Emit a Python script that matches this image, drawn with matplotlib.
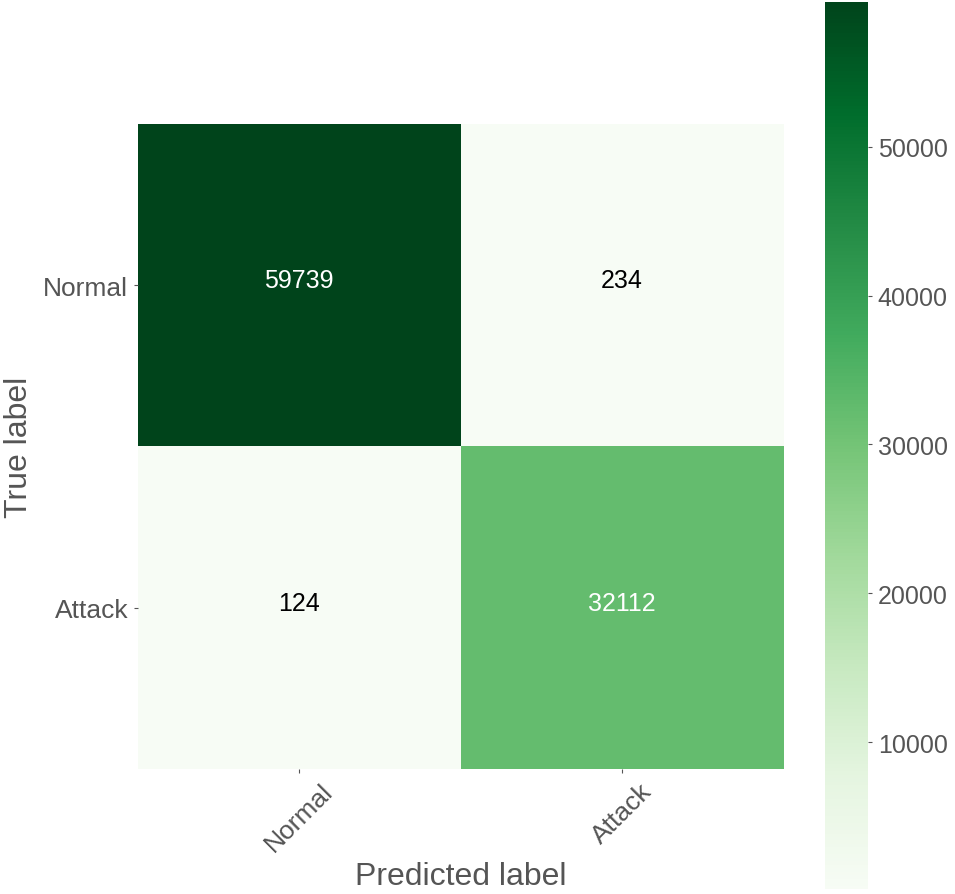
import numpy as np
import matplotlib
matplotlib.use('Agg')
from matplotlib import pyplot as plt

classes = ['Normal', 'Attack']
cm = np.array([[59739, 234],
               [124, 32112]])
cbar_ticks = [10000, 20000, 30000, 40000, 50000]

plt.rcParams['font.family'] = ['Liberation Sans', 'DejaVu Sans']
gray = '#555555'

fig = plt.figure(figsize=(9.55, 8.95), dpi=100)
ax = fig.add_axes([138/955, (895-770)/895, 645/955, 645/895])
im = ax.imshow(cm, interpolation='nearest', cmap=plt.cm.Greens, aspect='auto')

cax = fig.add_axes([825/955, 5/895, 43/955, 887/895])
cb = fig.colorbar(im, cax=cax, ticks=cbar_ticks)
cb.outline.set_visible(False)
cax.tick_params(labelsize=18, colors=gray, length=3, width=0.8, pad=4)

ax.set_xticks(np.arange(len(classes)))
ax.set_yticks(np.arange(len(classes)))
ax.set_xticklabels(classes, rotation=45, ha='center')
ax.set_yticklabels(classes)
ax.tick_params(labelsize=19, colors=gray, length=3, width=0.8, pad=4)
for s in ax.spines.values():
    s.set_visible(False)

thresh = cm.max() / 2.
for i in range(cm.shape[0]):
    for j in range(cm.shape[1]):
        ax.text(j, i - 0.015, format(cm[i, j], 'd'), ha='center', va='center', fontsize=18,
                color='white' if cm[i, j] > thresh * 0.9 else 'black')

# rotated label: its "top" faces left, so va='top' pins the left edge
ax.set_ylabel('True label', fontsize=23, color=gray, va='top', ha='center')
ax.yaxis.set_label_coords(-0.207, 0.5)
ax.set_xlabel('Predicted label', fontsize=23, color=gray)
ax.xaxis.set_label_coords(0.5, -0.142)

fig.savefig('out.png', dpi=100)
